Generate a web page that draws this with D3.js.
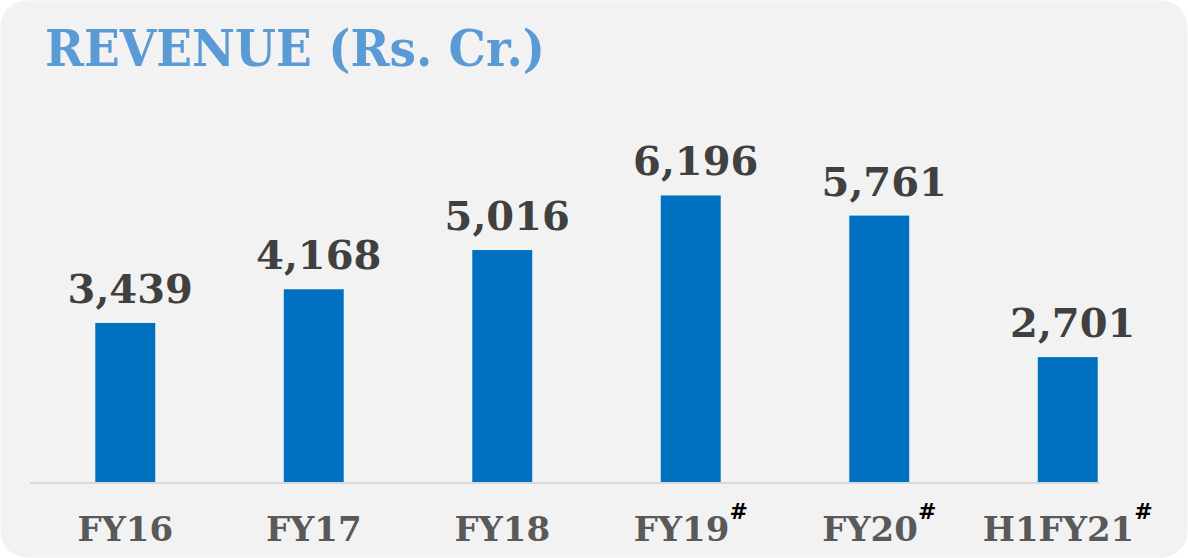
<!DOCTYPE html>
<html>
<head>
<meta charset="utf-8">
<script src="https://cdn.jsdelivr.net/npm/d3@7"></script>
<style>
  html, body { margin: 0; padding: 0; background: #ffffff; }
  svg { display: block; }
</style>
</head>
<body>
<svg id="chart" width="1188" height="558"></svg>
<script>
// Revenue by fiscal period (Rs. Cr.)
const categories = ["FY16", "FY17", "FY18", "FY19", "FY20", "H1FY21"];
const revenue = [3439, 4168, 5016, 6196, 5761, 2701];
const valueLabels = ["3,439", "4,168", "5,016", "6,196", "5,761", "2,701"];
const footnoteMarks = ["", "", "", "#", "#", "#"];

const W = 1188, H = 558;
const svg = d3.select("#chart");
const serif = "'DejaVu Serif', 'Liberation Serif', serif";

// Panel background
svg.append("rect")
  .attr("x", 0.5).attr("y", 0.5)
  .attr("width", W - 1).attr("height", H - 1)
  .attr("rx", 26).attr("ry", 26)
  .attr("fill", "#f2f2f2");

// Title
svg.append("text")
  .attr("x", 45).attr("y", 66)
  .attr("font-family", serif)
  .attr("font-weight", "bold")
  .attr("font-size", 50)
  .attr("textLength", 500)
  .attr("lengthAdjust", "spacingAndGlyphs")
  .attr("fill", "#5b9bd5")
  .text("REVENUE (Rs. Cr.)");

const baseY = 482;
const x = d3.scaleBand()
  .domain(categories)
  .range([31, 1162])
  .paddingInner(0.682)
  .paddingOuter(0.341);

const y = d3.scaleLinear()
  .domain([0, 7000])
  .range([baseY, baseY - 323.7]);

// Bars
svg.append("g").selectAll("rect")
  .data(categories)
  .join("rect")
  .attr("x", d => x(d))
  .attr("width", x.bandwidth())
  .attr("y", (d, i) => y(revenue[i]))
  .attr("height", (d, i) => y(0) - y(revenue[i]))
  .attr("fill", "#0070c0");

// Category axis line
svg.append("line")
  .attr("x1", 30).attr("x2", 1100)
  .attr("y1", baseY + 1).attr("y2", baseY + 1)
  .attr("stroke", "#d9d9d9").attr("stroke-width", 2);

// Value labels
svg.append("g").selectAll("text")
  .data(categories)
  .join("text")
  .attr("x", d => x(d) + x.bandwidth() / 2 + 5)
  .attr("y", (d, i) => y(revenue[i]) - 20)
  .attr("text-anchor", "middle")
  .attr("font-family", serif)
  .attr("font-weight", "bold")
  .attr("font-size", 40)
  .attr("fill", "#404040")
  .text((d, i) => valueLabels[i]);

// Category labels with footnote marks
const cat = svg.append("g").selectAll("text")
  .data(categories)
  .join("text")
  .attr("x", d => x(d) + x.bandwidth() / 2)
  .attr("y", 541)
  .attr("text-anchor", "middle")
  .attr("font-family", serif)
  .attr("font-weight", "bold")
  .attr("font-size", 34)
  .attr("fill", "#595959");
cat.append("tspan").text(d => d);
cat.filter((d, i) => footnoteMarks[i] !== "")
  .append("tspan")
  .attr("dy", -22)
  .attr("font-size", 22)
  .attr("fill", "#000000")
  .text((d) => footnoteMarks[categories.indexOf(d)]);
</script>
</body>
</html>
